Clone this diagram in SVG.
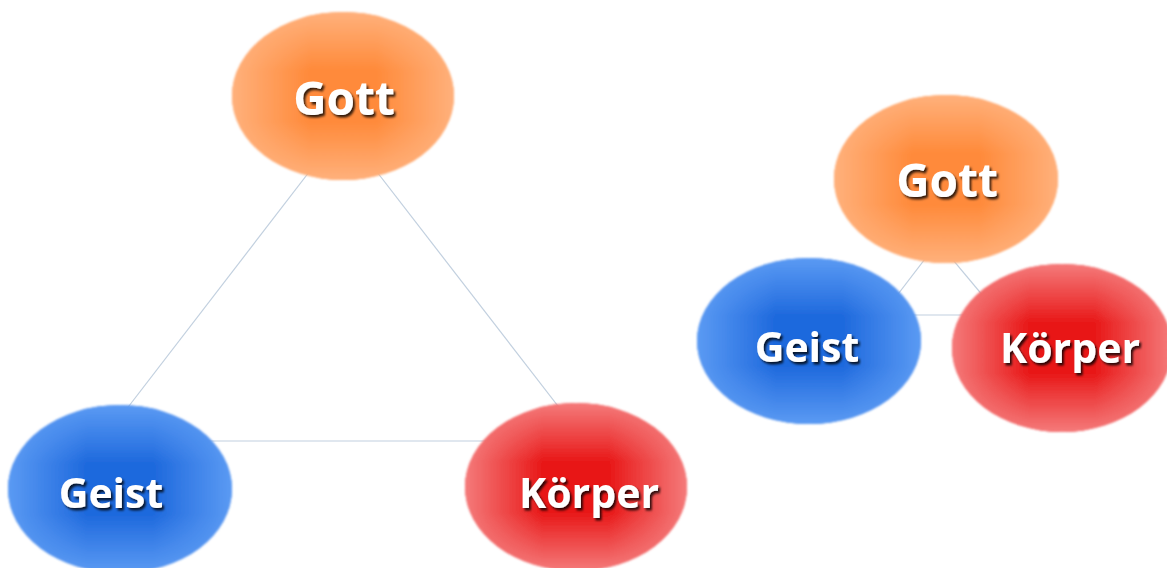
<svg xmlns="http://www.w3.org/2000/svg" width="1167" height="568" viewBox="0 0 1167 568">
  <defs>
    <linearGradient id="hO" x1="0" y1="0" x2="1" y2="0">
      <stop offset="0" stop-color="#ffb583" stop-opacity="0.9"/>
      <stop offset="0.35" stop-color="#ffb583" stop-opacity="0"/>
      <stop offset="0.65" stop-color="#ffb583" stop-opacity="0"/>
      <stop offset="1" stop-color="#ffb583" stop-opacity="0.9"/>
    </linearGradient>
    <linearGradient id="vO" x1="0" y1="0" x2="0" y2="1">
      <stop offset="0" stop-color="#ffb583" stop-opacity="0.9"/>
      <stop offset="0.35" stop-color="#ffb583" stop-opacity="0"/>
      <stop offset="0.65" stop-color="#ffb583" stop-opacity="0"/>
      <stop offset="1" stop-color="#ffb583" stop-opacity="0.9"/>
    </linearGradient>
    <linearGradient id="hB" x1="0" y1="0" x2="1" y2="0">
      <stop offset="0" stop-color="#62a0f6" stop-opacity="0.9"/>
      <stop offset="0.35" stop-color="#62a0f6" stop-opacity="0"/>
      <stop offset="0.65" stop-color="#62a0f6" stop-opacity="0"/>
      <stop offset="1" stop-color="#62a0f6" stop-opacity="0.9"/>
    </linearGradient>
    <linearGradient id="vB" x1="0" y1="0" x2="0" y2="1">
      <stop offset="0" stop-color="#62a0f6" stop-opacity="0.9"/>
      <stop offset="0.35" stop-color="#62a0f6" stop-opacity="0"/>
      <stop offset="0.65" stop-color="#62a0f6" stop-opacity="0"/>
      <stop offset="1" stop-color="#62a0f6" stop-opacity="0.9"/>
    </linearGradient>
    <linearGradient id="hR" x1="0" y1="0" x2="1" y2="0">
      <stop offset="0" stop-color="#f68686" stop-opacity="0.9"/>
      <stop offset="0.35" stop-color="#f68686" stop-opacity="0"/>
      <stop offset="0.65" stop-color="#f68686" stop-opacity="0"/>
      <stop offset="1" stop-color="#f68686" stop-opacity="0.9"/>
    </linearGradient>
    <linearGradient id="vR" x1="0" y1="0" x2="0" y2="1">
      <stop offset="0" stop-color="#f68686" stop-opacity="0.9"/>
      <stop offset="0.35" stop-color="#f68686" stop-opacity="0"/>
      <stop offset="0.65" stop-color="#f68686" stop-opacity="0"/>
      <stop offset="1" stop-color="#f68686" stop-opacity="0.9"/>
    </linearGradient>
    <filter id="ts" x="-20%" y="-30%" width="140%" height="160%">
      <feDropShadow dx="2" dy="2.5" stdDeviation="0.8" flood-color="#000" flood-opacity="0.8"/>
    </filter>
    <filter id="soft" x="-5%" y="-5%" width="110%" height="110%">
      <feGaussianBlur stdDeviation="0.8"/>
    </filter>
  </defs>
  <style>
    .conn { stroke: #c2d0df; stroke-width: 1.2; fill: none; }
    .o { fill: #ff8a3a; }
    .b { fill: #1e69dd; }
    .r { fill: #e81818; }
    .lbl { font-family: "Open Sans", "DejaVu Sans", sans-serif; font-weight: bold; fill: #ffffff; text-anchor: middle; filter: url(#ts); }
    .big { font-size: 46px; }
    .mid { font-size: 41px; }
  </style>
  <rect width="1167" height="568" fill="#ffffff"/>
  <g id="connectors">
    <line class="conn" x1="343" y1="128" x2="102" y2="441"/>
    <line class="conn" x1="343" y1="128" x2="585" y2="441"/>
    <line class="conn" x1="102" y1="441" x2="585" y2="441"/>
    <line class="conn" x1="938" y1="242" x2="882" y2="315"/>
    <line class="conn" x1="938" y1="242" x2="999" y2="315"/>
    <line class="conn" x1="882" y1="315" x2="999" y2="315"/>
  </g>
  <g id="gott-left">
    <g filter="url(#soft)">
      <ellipse class="o" cx="343" cy="96" rx="111" ry="84"/>
      <ellipse cx="343" cy="96" rx="111" ry="84" fill="url(#hO)"/>
      <ellipse cx="343" cy="96" rx="111" ry="84" fill="url(#vO)"/>
    </g>
    <text class="lbl big" x="344" y="115">Gott</text>
  </g>
  <g id="geist-left">
    <g filter="url(#soft)">
      <ellipse class="b" cx="120" cy="489" rx="112" ry="84"/>
      <ellipse cx="120" cy="489" rx="112" ry="84" fill="url(#hB)"/>
      <ellipse cx="120" cy="489" rx="112" ry="84" fill="url(#vB)"/>
    </g>
    <text class="lbl mid" x="111" y="508">Geist</text>
  </g>
  <g id="koerper-left">
    <g filter="url(#soft)">
      <ellipse class="r" cx="576" cy="487" rx="111" ry="84"/>
      <ellipse cx="576" cy="487" rx="111" ry="84" fill="url(#hR)"/>
      <ellipse cx="576" cy="487" rx="111" ry="84" fill="url(#vR)"/>
    </g>
    <text class="lbl mid" x="589" y="508">Körper</text>
  </g>
  <g id="gott-right">
    <g filter="url(#soft)">
      <ellipse class="o" cx="946" cy="179" rx="112" ry="84"/>
      <ellipse cx="946" cy="179" rx="112" ry="84" fill="url(#hO)"/>
      <ellipse cx="946" cy="179" rx="112" ry="84" fill="url(#vO)"/>
    </g>
    <text class="lbl big" x="947" y="197">Gott</text>
  </g>
  <g id="geist-right">
    <g filter="url(#soft)">
      <ellipse class="b" cx="809" cy="341" rx="112" ry="83"/>
      <ellipse cx="809" cy="341" rx="112" ry="83" fill="url(#hB)"/>
      <ellipse cx="809" cy="341" rx="112" ry="83" fill="url(#vB)"/>
    </g>
    <text class="lbl mid" x="807" y="362">Geist</text>
  </g>
  <g id="koerper-right">
    <g filter="url(#soft)">
      <ellipse class="r" cx="1062" cy="348" rx="110" ry="84"/>
      <ellipse cx="1062" cy="348" rx="110" ry="84" fill="url(#hR)"/>
      <ellipse cx="1062" cy="348" rx="110" ry="84" fill="url(#vR)"/>
    </g>
    <text class="lbl mid" x="1070" y="363">Körper</text>
  </g>
</svg>
